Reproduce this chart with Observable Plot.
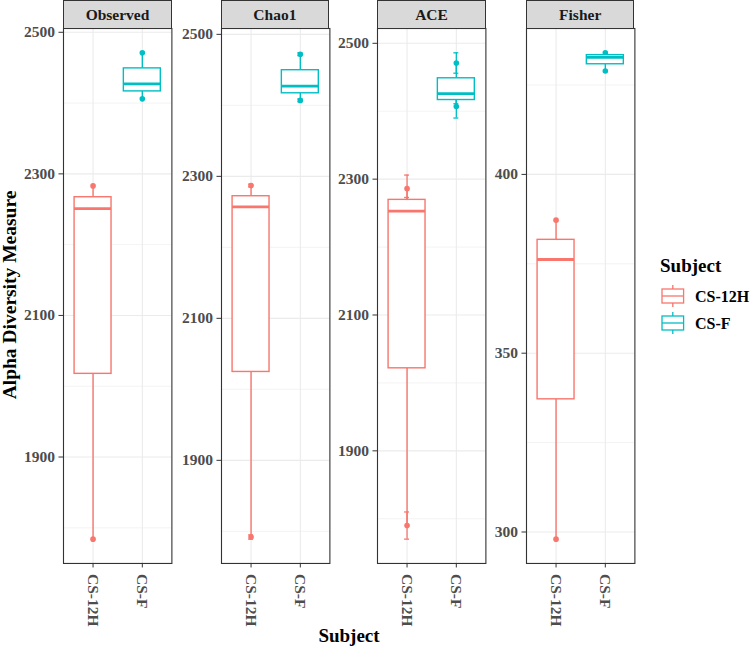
<!DOCTYPE html>
<html><head><meta charset="utf-8">
<script src="https://cdn.jsdelivr.net/npm/d3@7"></script>
<script src="https://cdn.jsdelivr.net/npm/@observablehq/plot@0.6"></script>
<style>
body{margin:0;background:#fff;}
#root{position:relative;width:751px;height:649px;overflow:hidden;font-family:"Liberation Serif","Times New Roman",serif;background:#fff;}
.strip{position:absolute;top:0;height:29px;box-sizing:border-box;background:#D9D9D9;border:1.1px solid #333;font-weight:bold;font-size:15.5px;text-align:center;line-height:27px;color:#1A1A1A;}
</style></head><body><div id="root"></div>
<script>
// ---- data ----
const subjects = ["CS-12H", "CS-F"];
const subjectColors = ["#F8766D", "#00BFC4"];
const measures = ["Observed", "Chao1", "ACE", "Fisher"];

const observed12H = [1784, 2251, 2283];
const observedF   = [2406, 2427, 2471];

const chao1_12H   = [1792, 2257, 2287];
const chao1Se12H  = [3, 2, 2];
const chao1F      = [2407, 2427, 2472];
const chao1SeF    = [2, 2, 2];

const ace12H      = [1790, 2253, 2286];
const aceSe12H    = [20, 20, 20];
const aceF        = [2407, 2426, 2471];
const aceSeF      = [17, 15, 15];

const fisher12H   = [298.0, 376.2, 387.2];
const fisherF     = [428.9, 432.7, 434.0];

const ticksRichness = [1900, 2100, 2300, 2500];
const minorRichness = [1800, 2000, 2200, 2400];
const ticksFisher   = [300, 350, 400];
const minorFisher   = [325, 375, 425];

// ---- build panels ----
function rows(vals12, valsF, se12, seF) {
  const out = [];
  vals12.forEach((v, j) => out.push({s: 1, v, se: se12 ? se12[j] : 0}));
  valsF.forEach((v, j) => out.push({s: 2, v, se: seF ? seF[j] : 0}));
  return out;
}
const panels = [
  {name: measures[0], data: rows(observed12H, observedF), ticks: ticksRichness, minor: minorRichness, se: false},
  {name: measures[1], data: rows(chao1_12H, chao1F, chao1Se12H, chao1SeF), ticks: ticksRichness, minor: minorRichness, se: true},
  {name: measures[2], data: rows(ace12H, aceF, aceSe12H, aceSeF), ticks: ticksRichness, minor: minorRichness, se: true},
  {name: measures[3], data: rows(fisher12H, fisherF), ticks: ticksFisher, minor: minorFisher, se: false}
];

function stats(data) {
  return [1, 2].map(s => {
    const v = data.filter(d => d.s === s).map(d => d.v).sort(d3.ascending);
    const q1 = d3.quantile(v, 0.25), med = d3.quantile(v, 0.5), q3 = d3.quantile(v, 0.75);
    const iqr = q3 - q1;
    const lo = d3.min(v.filter(x => x >= q1 - 1.5 * iqr));
    const hi = d3.max(v.filter(x => x <= q3 + 1.5 * iqr));
    return {s, q1, med, q3, lo, hi};
  });
}

const root = document.getElementById("root");
const font = '"Liberation Serif","Times New Roman",serif';
const panelLefts = [63.3, 220.7, 377.3, 526];
const panelW = 108.4;
const ml = 60;
const color = d => subjectColors[d.s - 1];

panels.forEach((p, i) => {
  const lo = d3.min(p.data, d => d.v - d.se), hi = d3.max(p.data, d => d.v + d.se);
  const pad = (hi - lo) * 0.05;
  const domain = [lo - pad, hi + pad];
  const st = stats(p.data);
  const minor = p.minor.filter(t => t > domain[0] && t < domain[1]);
  const marks = [
    Plot.ruleY(minor, {stroke: "#EBEBEB", strokeWidth: 0.6}),
    Plot.ruleY(p.ticks, {stroke: "#EBEBEB", strokeWidth: 1.1}),
    Plot.ruleX([1, 2], {stroke: "#EBEBEB", strokeWidth: 1.1}),
  ];
  if (p.se) {
    marks.push(
      Plot.ruleX(p.data, {x: "s", y1: d => d.v - d.se, y2: d => d.v + d.se, stroke: color, strokeWidth: 1.3}),
      Plot.ruleY(p.data, {y: d => d.v - d.se, x1: d => d.s - 0.05, x2: d => d.s + 0.05, stroke: color, strokeWidth: 1.3}),
      Plot.ruleY(p.data, {y: d => d.v + d.se, x1: d => d.s - 0.05, x2: d => d.s + 0.05, stroke: color, strokeWidth: 1.3})
    );
  }
  marks.push(
    Plot.dot(p.data, {x: "s", y: "v", r: 2.8, fill: color, stroke: "none"}),
    Plot.ruleX(st, {x: "s", y1: "q3", y2: "hi", stroke: color, strokeWidth: 1.4}),
    Plot.ruleX(st, {x: "s", y1: "lo", y2: "q1", stroke: color, strokeWidth: 1.4}),
    Plot.rect(st, {x1: d => d.s - 0.375, x2: d => d.s + 0.375, y1: "q1", y2: "q3", fill: "white", stroke: color, strokeWidth: 1.4}),
    Plot.ruleY(st, {y: "med", x1: d => d.s - 0.375, x2: d => d.s + 0.375, stroke: color, strokeWidth: 2.8}),
    Plot.frame({stroke: "#333333", strokeWidth: 1.1}),
    Plot.axisY(p.ticks, {tickSize: 4.5, tickPadding: 4, tickFormat: d => String(d), fontSize: 15.5, fontWeight: "bold", fill: "#4D4D4D", stroke: "#333", label: null}),
    Plot.axisX([1, 2], {tickFormat: d => subjects[d - 1], tickRotate: 90, tickSize: 4.5, tickPadding: 6, fontSize: 15.5, fontWeight: "bold", fill: "#4D4D4D", stroke: "#333", label: null})
  );
  const svg = Plot.plot({
    width: ml + panelW + 2, height: 649,
    marginLeft: ml, marginRight: 2, marginTop: 28, marginBottom: 86,
    x: {domain: [0.4, 2.6]},
    y: {domain},
    style: {fontFamily: font, background: "transparent", overflow: "visible"},
    marks
  });
  svg.style.position = "absolute";
  svg.style.left = (panelLefts[i] - ml) + "px";
  svg.style.top = "0px";
  svg.style.maxWidth = "none";
  root.appendChild(svg);

  const strip = document.createElement("div");
  strip.className = "strip";
  strip.style.left = panelLefts[i] + "px";
  strip.style.width = panelW + "px";
  strip.textContent = p.name;
  root.appendChild(strip);
});

// ---- titles & legend ----
const ov = d3.select(root).append("svg")
  .attr("width", 751).attr("height", 649)
  .style("position", "absolute").style("left", 0).style("top", 0)
  .style("font-family", font);

ov.append("text").attr("transform", "translate(16,295) rotate(-90)")
  .attr("text-anchor", "middle").attr("font-weight", "bold").attr("font-size", 19.5)
  .attr("fill", "black").text("Alpha Diversity Measure");
ov.append("text").attr("x", 349).attr("y", 642)
  .attr("text-anchor", "middle").attr("font-weight", "bold").attr("font-size", 19)
  .attr("fill", "black").text("Subject");

ov.append("text").attr("x", 660).attr("y", 272)
  .attr("font-weight", "bold").attr("font-size", 19).attr("fill", "black").text("Subject");
subjects.forEach((s, j) => {
  const cy = 296 + j * 27, x0 = 662, w = 21.6, c = subjectColors[j];
  const g = ov.append("g");
  g.append("line").attr("x1", x0 + w / 2).attr("x2", x0 + w / 2).attr("y1", cy - 11).attr("y2", cy + 11)
    .attr("stroke", c).attr("stroke-width", 1.3);
  g.append("rect").attr("x", x0).attr("y", cy - 7).attr("width", w).attr("height", 14)
    .attr("fill", "white").attr("stroke", c).attr("stroke-width", 1.3);
  g.append("line").attr("x1", x0).attr("x2", x0 + w).attr("y1", cy).attr("y2", cy)
    .attr("stroke", c).attr("stroke-width", 1.3);
  g.append("text").attr("x", 695).attr("y", cy).attr("dy", "0.35em")
    .attr("font-weight", "bold").attr("font-size", 16).attr("fill", "black").text(s);
});
</script>
</body></html>
